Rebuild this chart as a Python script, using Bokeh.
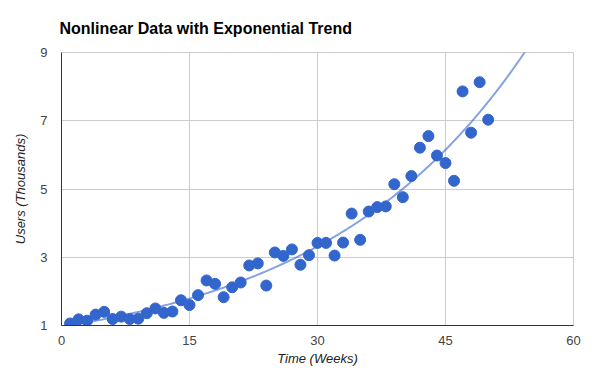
import numpy as np
from bokeh.plotting import figure
from bokeh.models import FixedTicker, ColumnDataSource
from bokeh.embed import file_html
from bokeh.resources import INLINE

weeks = list(range(1, 51))
users = [1.06, 1.18, 1.14, 1.32, 1.40, 1.19, 1.26, 1.19, 1.20, 1.36,
         1.50, 1.37, 1.41, 1.74, 1.60, 1.89, 2.32, 2.22, 1.83, 2.12,
         2.26, 2.76, 2.82, 2.17, 3.14, 3.04, 3.23, 2.78, 3.06, 3.42,
         3.42, 3.05, 3.43, 4.28, 3.51, 4.34, 4.47, 4.49, 5.14, 4.76,
         5.38, 6.21, 6.55, 5.98, 5.76, 5.24, 7.86, 6.65, 8.13, 7.03]
x_ticks = [0, 15, 30, 45, 60]
y_ticks = [1, 3, 5, 7, 9]

title = "Nonlinear Data with Exponential Trend"
x_label = "Time (Weeks)"
y_label = "Users (Thousands)"

FONT = "Liberation Sans"

p = figure(width=600, height=371, output_backend="svg", toolbar_location=None,
           x_range=(0, 60), y_range=(1, 9),
           min_border_left=61, min_border_right=27, min_border_top=52, min_border_bottom=46)
p.title.text = title
p.title.text_font = FONT
p.title.text_font_size = "16px"
p.title.text_font_style = "bold"
p.title.text_color = "#000000"
p.title.offset = -2
p.title.standoff = 32

p.outline_line_color = "#cccccc"
p.background_fill_color = "white"
p.border_fill_color = "white"

for ax, ticks, lab in ((p.xaxis[0], x_ticks, x_label), (p.yaxis[0], y_ticks, y_label)):
    ax.ticker = FixedTicker(ticks=ticks)
    ax.axis_label = lab
    ax.axis_label_text_font = FONT
    ax.axis_label_text_font_style = "italic"
    ax.axis_label_text_font_size = "13px"
    ax.axis_label_text_color = "#222222"
    ax.major_label_text_font = FONT
    ax.major_label_text_font_size = "13px"
    ax.major_label_text_color = "#444444"
    ax.major_tick_line_color = None
    ax.minor_tick_line_color = None
    ax.axis_line_color = "#333333"
    ax.axis_line_width = 1

p.xaxis.major_label_standoff = 4
p.xaxis.axis_label_standoff = 3
p.yaxis.major_label_standoff = 8
p.yaxis.axis_label_standoff = 9

p.xgrid.ticker = FixedTicker(ticks=x_ticks)
p.ygrid.ticker = FixedTicker(ticks=y_ticks)
p.grid.grid_line_color = "#cccccc"
p.grid.grid_line_width = 1

# exponential trendline (least squares fit in log space)
b, lna = np.polyfit(np.array(weeks, float), np.log(users), 1)
tx = np.linspace(0, 60, 300)
ty = np.exp(lna) * np.exp(b * tx)
p.line(tx, ty, line_color="#3366cc", line_alpha=0.6, line_width=2)

src = ColumnDataSource(dict(x=weeks, y=users))
p.scatter("x", "y", source=src, size=11, fill_color="#3366cc", line_color="#3366cc")

open("out.html", "w").write(file_html(p, INLINE))
